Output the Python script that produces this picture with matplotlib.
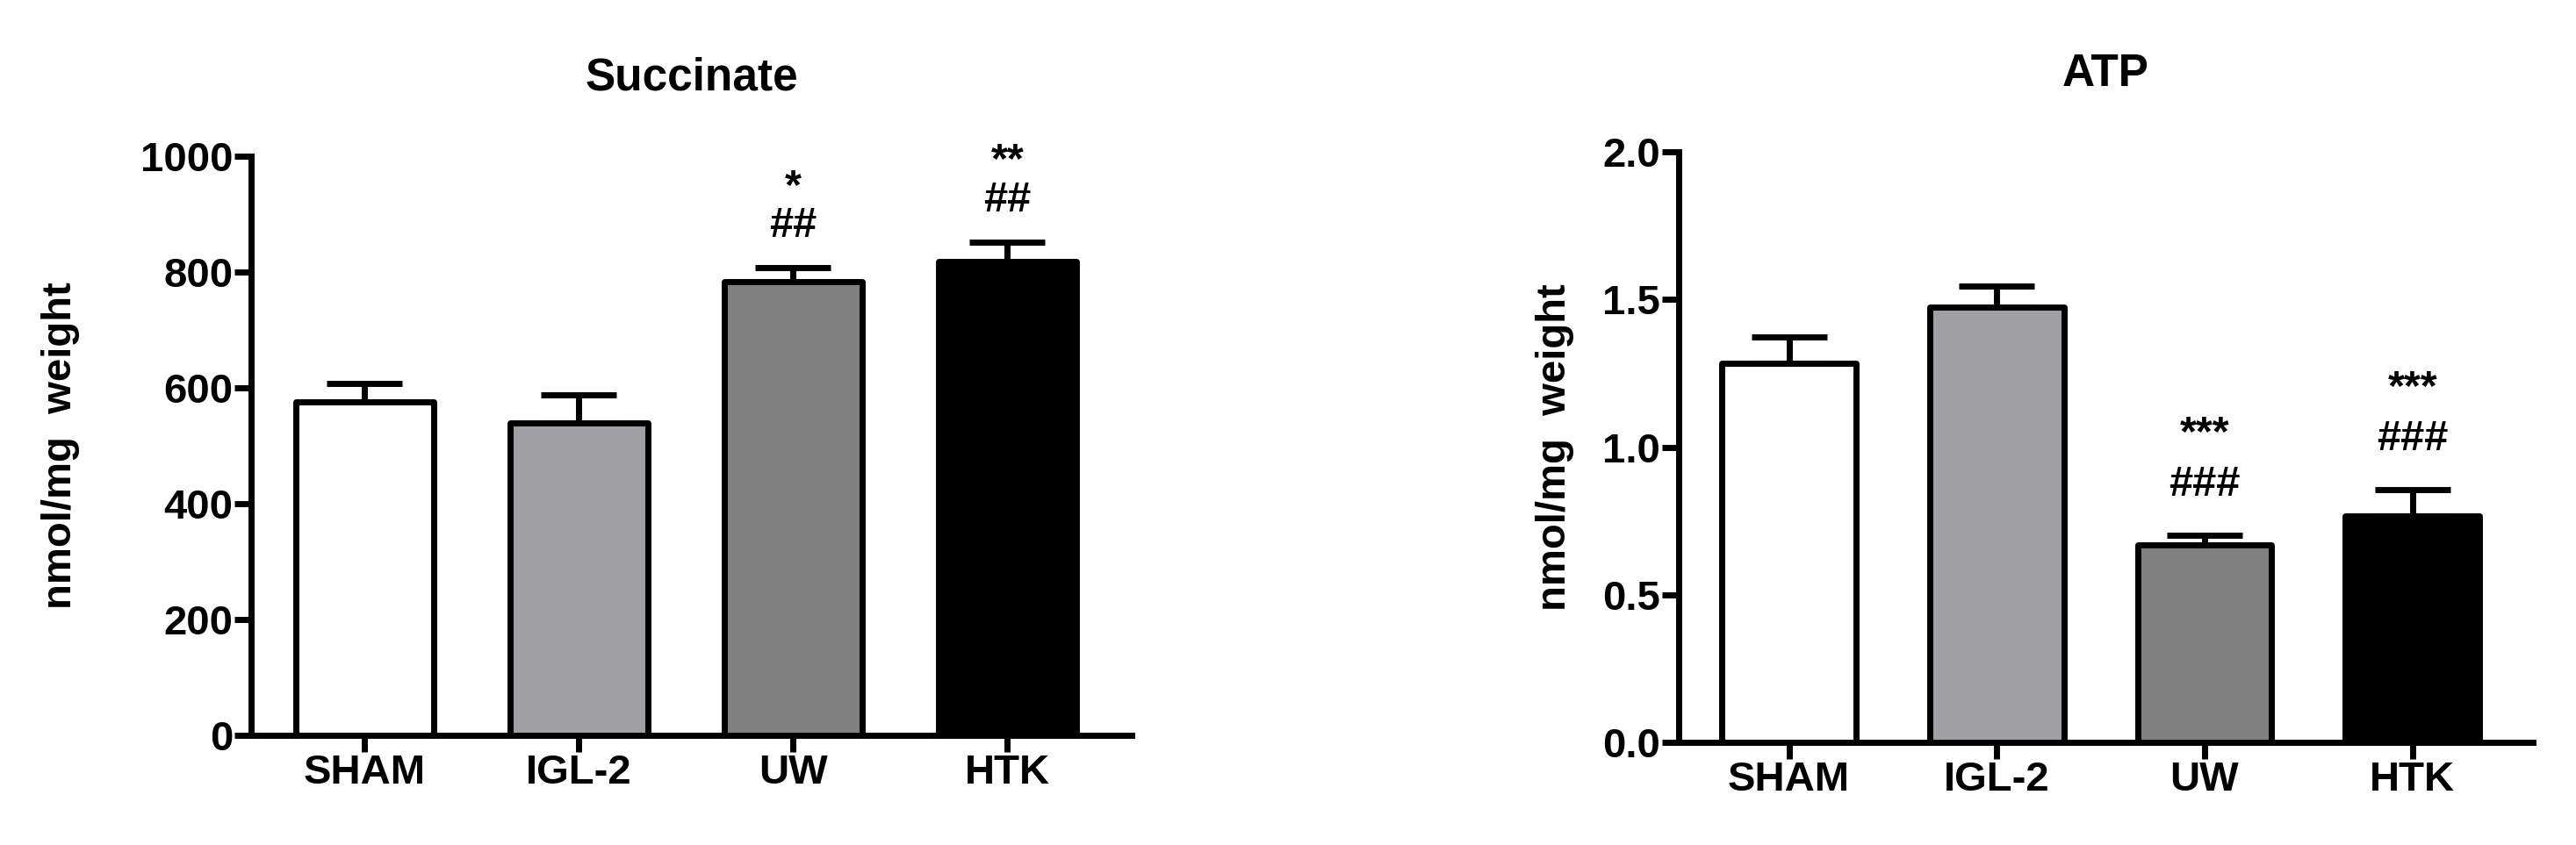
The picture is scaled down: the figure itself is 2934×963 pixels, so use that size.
import matplotlib
matplotlib.use("Agg")
import matplotlib.pyplot as plt

plt.rcParams["font.family"] = ["Liberation Sans", "DejaVu Sans"]
plt.rcParams["font.weight"] = "bold"

groups = ["SHAM", "IGL-2", "UW", "HTK"]
bar_colors = ["#ffffff", "#a0a0a4", "#808080", "#000000"]

succ_mean = [576, 539, 783, 818]
succ_sem = [32, 49, 25, 34]
succ_stars = ["", "", "*", "**"]
succ_hash = ["", "", "##", "##"]

atp_mean = [1.285, 1.473, 0.670, 0.768]
atp_sem = [0.087, 0.072, 0.032, 0.089]
atp_stars = ["", "", "***", "***"]
atp_hash = ["", "", "###", "###"]

fig = plt.figure(figsize=(29.34, 9.63), dpi=100)
ax1 = fig.add_axes([0.0975, 0.1298, 0.3418, 0.6854])
ax2 = fig.add_axes([0.6517, 0.1215, 0.3316, 0.6988])


def panel(ax, title, mean, sem, stars, hashes, ylim, yticks, ylabels,
          hash_pad, star_pad, label_x):
    x = range(len(groups))
    bars = ax.bar(x, mean, width=0.645, color=bar_colors, edgecolor="black",
                  linewidth=5, zorder=2)
    for b in bars:
        b.set_joinstyle("round")
    ax.errorbar(x, mean, yerr=[[0] * len(sem), sem], fmt="none",
                ecolor="black", elinewidth=5, capsize=31, capthick=5,
                zorder=1)
    # significance marks stacked above the error bars
    for i in x:
        top = mean[i] + sem[i]
        if hashes[i]:
            ax.annotate(hashes[i], (i, top), xytext=(0, hash_pad),
                        textcoords="offset points", ha="center",
                        va="baseline", fontsize=35)
        if stars[i]:
            ax.annotate(stars[i], (i, top), xytext=(0, star_pad),
                        textcoords="offset points", ha="center",
                        va="baseline", fontsize=35)
    ax.set_xlim(-0.53, 3.58)
    ax.set_ylim(*ylim)
    ax.set_yticks(yticks)
    ax.set_yticklabels(ylabels)
    ax.set_xticks(list(x))
    ax.set_xticklabels(groups)
    ax.tick_params(axis="both", width=5, length=14, labelsize=34, pad=1)
    for s in ["top", "right"]:
        ax.spines[s].set_visible(False)
    for s in ["left", "bottom"]:
        ax.spines[s].set_linewidth(5)
    ax.set_title(title, fontsize=37, fontweight="bold", pad=54)
    ax.set_ylabel("nmol/mg  weight", fontsize=34, fontweight="bold")
    ax.yaxis.set_label_coords(label_x, 0.5)


panel(ax1, "Succinate", succ_mean, succ_sem, succ_stars, succ_hash,
      (0, 1000), [0, 200, 400, 600, 800, 1000],
      ["0", "200", "400", "600", "800", "1000"], 25, 57, -0.195)
panel(ax2, "ATP", atp_mean, atp_sem, atp_stars, atp_hash,
      (0, 2.0), [0, 0.5, 1.0, 1.5, 2.0],
      ["0.0", "0.5", "1.0", "1.5", "2.0"], 32, 74, -0.122)

fig.savefig("out.png", dpi=100)
